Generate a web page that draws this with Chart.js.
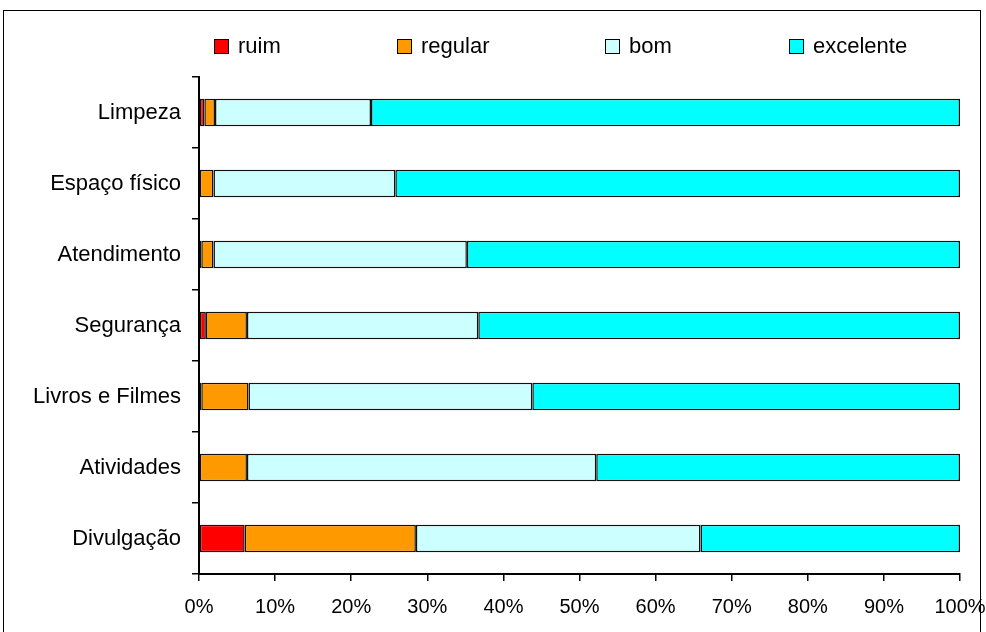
<!DOCTYPE html>
<html>
<head>
<meta charset="utf-8">
<script src="https://cdn.jsdelivr.net/npm/chart.js@4.4.1/dist/chart.umd.min.js"></script>
<style>
  html, body { margin: 0; padding: 0; background: #fff; }
  #wrap { position: relative; width: 986px; height: 632px; overflow: hidden;
          font-family: "Liberation Sans", Arial, sans-serif; }
  #frame { position: absolute; left: 3px; top: 10px; width: 978px; height: 700px;
           border: 1px solid #000; box-sizing: border-box; }
  #c { position: absolute; left: 0; top: 0; }
  #legend { position: absolute; left: 0; top: 33px; width: 986px; height: 26px; }
  .item { position: absolute; top: 0; height: 26px; display: flex; align-items: center;
          font-size: 22px; color: #000; white-space: nowrap; }
  .sw { width: 15px; height: 15px; border: 1.5px solid #000; box-sizing: border-box; margin-right: 9px; }
</style>
</head>
<body>
<div id="wrap">
  <div id="frame"></div>
  <canvas id="c" width="986" height="632"></canvas>
  <div id="legend"></div>
</div>
<script>
// Survey categories, top to bottom
const categories = ['Limpeza', 'Espaço físico', 'Atendimento', 'Segurança', 'Livros e Filmes', 'Atividades', 'Divulgação'];

// Share of answers per rating (%)
const ruim      = [0.7, 0.0, 0.3, 0.9, 0.3, 0.0, 6.0];
const regular   = [1.4, 1.9, 1.6, 5.4, 6.2, 6.3, 22.5];
const bom       = [20.5, 23.9, 33.3, 30.4, 37.3, 45.9, 37.4];
const excelente = [77.4, 74.2, 64.8, 63.3, 56.2, 47.8, 34.1];

const seriesNames = ['ruim', 'regular', 'bom', 'excelente'];
const xTicks = [0, 10, 20, 30, 40, 50, 60, 70, 80, 90, 100];

const colors = ['#FF0000', '#FF9900', '#CCFFFF', '#00FFFF'];
const legendLeft = [214, 397, 605, 789];
const FONT = '"Liberation Sans", Arial, sans-serif';

const values = [ruim, regular, bom, excelente];
const datasets = seriesNames.map((name, i) => ({
  label: name,
  data: values[i],
  backgroundColor: colors[i],
  borderColor: '#111',
  borderWidth: 1.5,
  borderSkipped: false,
  barPercentage: 0.39,
  categoryPercentage: 1.0
}));

// legend row above the plot
const legendEl = document.getElementById('legend');
seriesNames.forEach((name, i) => {
  const it = document.createElement('div');
  it.className = 'item';
  it.style.left = legendLeft[i] + 'px';
  const sw = document.createElement('span');
  sw.className = 'sw';
  sw.style.background = colors[i];
  const tx = document.createElement('span');
  tx.textContent = name;
  it.appendChild(sw);
  it.appendChild(tx);
  legendEl.appendChild(it);
});

new Chart(document.getElementById('c'), {
  type: 'bar',
  data: { labels: categories, datasets },
  options: {
    indexAxis: 'y',
    responsive: false,
    animation: false,
    devicePixelRatio: 1,
    layout: { padding: { top: 77, right: 26, bottom: 0, left: 0 } },
    plugins: { legend: { display: false }, tooltip: { enabled: false } },
    scales: {
      x: {
        type: 'linear',
        stacked: true,
        min: 0,
        max: 100,
        afterBuildTicks: (scale) => { scale.ticks = xTicks.map(v => ({ value: v })); },
        afterFit: (scale) => { scale.height = 58; scale.paddingLeft = 0; scale.paddingRight = 0; },
        ticks: {
          callback: (v) => v + '%',
          color: '#000',
          font: { family: FONT, size: 20 },
          padding: 14,
          maxRotation: 0,
          autoSkip: false
        },
        grid: { drawOnChartArea: false, drawTicks: true, tickLength: 7, color: '#000', lineWidth: 1.5 },
        border: { display: true, color: '#000', width: 2 }
      },
      y: {
        stacked: true,
        afterFit: (scale) => { scale.width = 199; scale.paddingTop = 0; scale.paddingBottom = 0; },
        ticks: {
          color: '#000',
          font: { family: FONT, size: 22 },
          padding: 11,
          autoSkip: false
        },
        grid: { drawOnChartArea: false, drawTicks: true, tickLength: 7, color: '#000', lineWidth: 1.5, offset: true },
        border: { display: true, color: '#000', width: 2 }
      }
    }
  }
});
</script>
</body>
</html>
